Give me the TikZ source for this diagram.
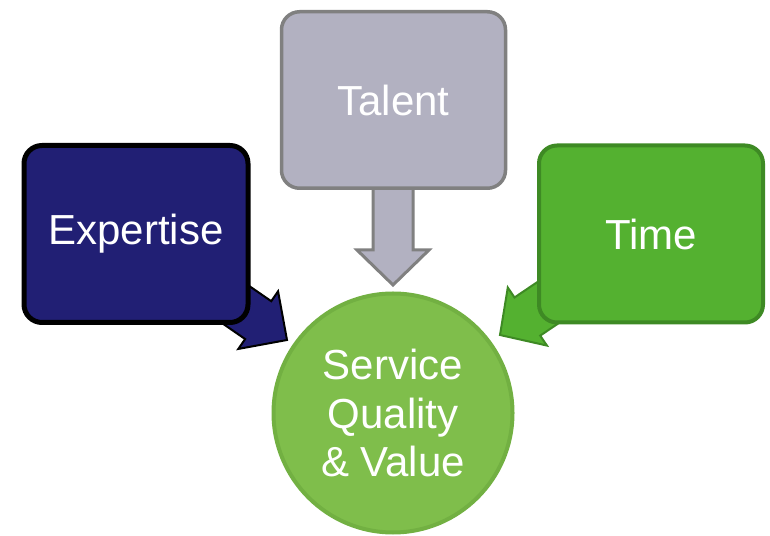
\documentclass[tikz,border=0pt]{standalone}
\usepackage{fontspec}
\setmainfont{Liberation Sans}
\usetikzlibrary{positioning}
\definecolor{expblue}{RGB}{33,31,116}
\definecolor{talgray}{RGB}{178,177,193}
\definecolor{talline}{RGB}{128,128,128}
\definecolor{timgreen}{RGB}{84,177,48}
\definecolor{timline}{RGB}{62,138,36}
\definecolor{svcgreen}{RGB}{127,190,75}
\definecolor{svcline}{RGB}{114,176,66}
\tikzset{factor/.style={rectangle,rounded corners=18pt,text=white,
inner sep=2pt,minimum width=224pt,minimum height=177pt,font=\fontsize{42}{48}\selectfont}}
\tikzset{result/.style={circle,draw=svcline,fill=svcgreen,line width=4pt,text=white,
inner sep=0pt,minimum size=239pt,align=center,font=\fontsize{42}{48.5}\selectfont}}

\begin{document}
\begin{tikzpicture}[x=1pt,y=1pt]
    \useasboundingbox (0,0) rectangle (770,535);

        \coordinate (tipTal) at (393,250);
        \coordinate (tipExp) at (287,195);
        \coordinate (tipTim) at (500,200);

        % block arrows first, the boxes hide their tails
        \draw[draw=talline,fill=talgray,line width=3pt,shift={(tipTal)},rotate=-90]
            (0,0) -- (-35,36) -- (-35,20) -- (-110,20) -- (-110,-20) -- (-35,-20) -- (-35,-36) -- cycle;
        \draw[draw=black,fill=expblue,line width=2pt,shift={(tipExp)},rotate=-34.6]
            (0,0) -- (-35,35) -- (-35,23) -- (-160,23) -- (-160,-23) -- (-35,-23) -- (-35,-35) -- cycle;
        \draw[draw=timline,fill=timgreen,line width=2pt,shift={(tipTim)},rotate=214]
            (0,0) -- (-33,35) -- (-33,23) -- (-160,23) -- (-160,-23) -- (-33,-23) -- (-33,-35) -- cycle;

        \node[factor,draw=black,fill=expblue,line width=5pt] (boxExp) at (136,301) {Expertise};
        \node[factor,draw=talline,fill=talgray,line width=3.5pt,minimum height=176.5pt] (boxTal) at (393.5,435) {Talent};
        \node[factor,draw=timline,fill=timgreen,line width=4pt] (boxTim) at (651,301) {Time};

        \node[result] (circSvc) at (393,122) {Service\\Quality\\\& Value};

    \end{tikzpicture}
\end{document}
